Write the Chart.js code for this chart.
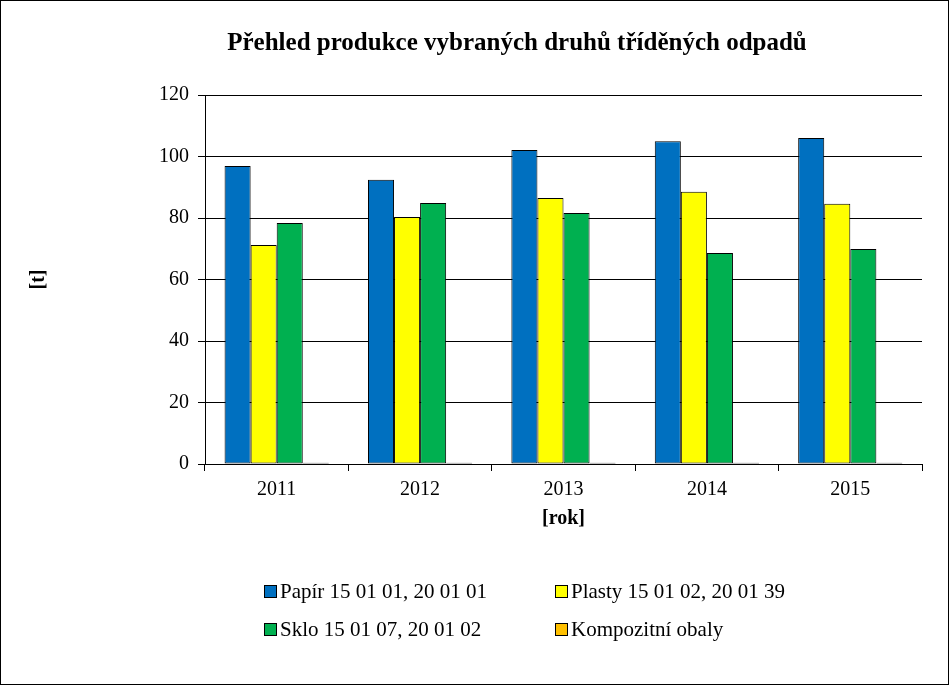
<!DOCTYPE html>
<html>
<head>
<meta charset="utf-8">
<script src="https://cdn.jsdelivr.net/npm/chart.js@4"></script>
<style>
  body { margin: 0; background: #fff; }
  #wrap { position: relative; width: 947px; height: 683px; border: 1px solid #000; font-family: "Liberation Serif", "Times New Roman", serif; }
  #title { position: absolute; left: 0; width: 1032px; top: 27px; text-align: center; font-weight: bold; font-size: 25px; }
  #legend { position: absolute; left: 263px; top: 578px; display: grid; grid-template-columns: 291px 260px; row-gap: 14px; font-size: 21px; }
  #legend div { display: flex; align-items: center; height: 24px; }
  #legend span.box { display: inline-block; width: 11px; height: 11px; border: 1px solid #000; margin-right: 3px; }
</style>
</head>
<body>
<div id="wrap">
  <canvas id="odpadyChart"></canvas>
  <div id="title">Přehled produkce vybraných druhů tříděných odpadů</div>
  <div id="legend"></div>
</div>
<script>
const years = ['2011', '2012', '2013', '2014', '2015'];
const seriesNames = ['Papír 15 01 01, 20 01 01', 'Plasty 15 01 02, 20 01 39', 'Sklo 15 01 07, 20 01 02', 'Kompozitní obaly'];
const papir = [96.9, 92.4, 102.1, 105.0, 106.0];
const plasty = [71.2, 80.3, 86.5, 88.5, 84.6];
const sklo = [78.4, 84.9, 81.6, 68.6, 69.9];
const kompozit = [0.4, 0.4, 0.4, 0.4, 0.4];
const yTicks = [0, 20, 40, 60, 80, 100, 120];

const colors = ['#0070C0', '#FFFF00', '#00B050', '#FFC000'];
const values = [papir, plasty, sklo, kompozit];

const serif = 'Liberation Serif, "Times New Roman", serif';

// HTML legend in two columns, like the original
const legendEl = document.getElementById('legend');
[0, 1, 2, 3].forEach(function (i) {
  const item = document.createElement('div');
  item.innerHTML = '<span class="box" style="background:' + colors[i] + '"></span>' + seriesNames[i];
  legendEl.appendChild(item);
});

const ctx = document.getElementById('odpadyChart').getContext('2d');
new Chart(ctx, {
  type: 'bar',
  data: {
    labels: years,
    datasets: values.map(function (v, i) {
      return {
        label: seriesNames[i],
        data: v,
        backgroundColor: colors[i],
        borderColor: '#000',
        borderWidth: 1,
        borderSkipped: false,
        categoryPercentage: 0.727,
        barPercentage: 1
      };
    })
  },
  options: {
    responsive: true,
    maintainAspectRatio: false,
    animation: false,
    layout: { padding: { left: 20, right: 26, top: 94, bottom: 153 } },
    plugins: {
      legend: { display: false },
      title: { display: false },
      tooltip: { enabled: false }
    },
    scales: {
      x: {
        afterFit: function (scale) { scale.height = 67; },
        border: { color: '#000', width: 1 },
        grid: { offset: true, drawOnChartArea: false, color: '#000', tickLength: 7 },
        ticks: { color: '#000', font: { family: serif, size: 20 }, padding: 7 },
        title: { display: true, text: '[rok]', color: '#000', font: { family: serif, size: 20, weight: 'bold' }, padding: 0 }
      },
      y: {
        min: 0,
        max: 120,
        afterFit: function (scale) { scale.width = 184; },
        afterBuildTicks: function (scale) { scale.ticks = yTicks.map(function (t) { return { value: t }; }); },
        border: { color: '#000', width: 1 },
        grid: { color: '#000', tickLength: 7 },
        ticks: { color: '#000', font: { family: serif, size: 20 }, padding: 9 },
        title: { display: true, text: '[t]', color: '#000', font: { family: serif, size: 20, weight: 'bold' }, padding: { top: 6 } }
      }
    }
  }
});
</script>
</body>
</html>
